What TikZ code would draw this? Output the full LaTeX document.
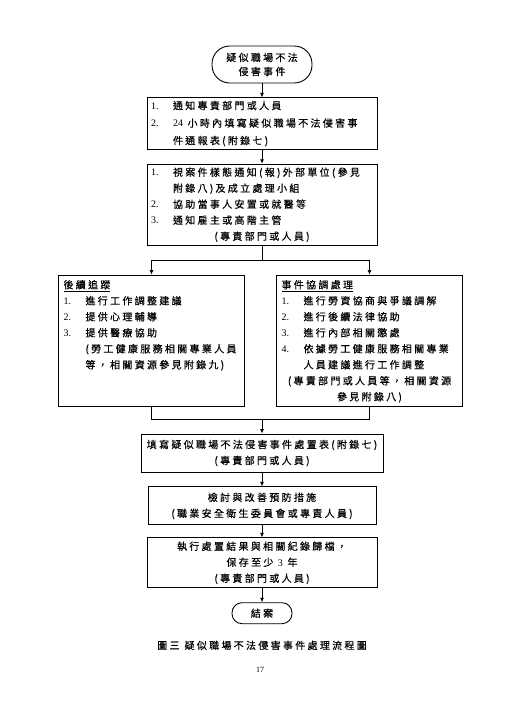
\documentclass[tikz,border=0pt]{standalone}
\usepackage{fontspec}
\setmainfont{Noto Sans CJK TC}[LetterSpace=23, FakeBold=0.4]
\newfontfamily\numfont{Liberation Serif}
\usetikzlibrary{positioning,arrows.meta,calc}

\newlength{\numw}\setlength{\numw}{22pt}
\newcommand{\itm}[1]{\makebox[\numw][l]{\numfont #1}}
\newcommand{\cont}{\hspace*{\numw}}
\newcommand{\midline}[1]{\makebox[\linewidth][c]{#1}}

\begin{document}
\begin{tikzpicture}[
    x=1pt, y=1pt,
    font=\fontsize{10pt}{16pt}\selectfont,
    flow/.style={draw, line width=0.9pt, inner xsep=4pt, inner ysep=3pt},
    listbox/.style={flow, minimum height=#1},
    midbox/.style 2 args={flow, align=center, minimum width=#1, minimum height=#2},
    sidebox/.style={flow, inner xsep=5pt, inner ysep=5pt, anchor=north},
    terminal/.style 2 args={draw, line width=0.9pt, align=center,
                            minimum width=#1, minimum height=#2,
                            rounded corners=0.48*#2, inner sep=1pt},
    link/.style={line width=0.8pt},
    arrow/.style={link, -{Latex[length=4.5pt,width=4pt]}},
  ]
  \fill[white] (0,0) rectangle (526,-726);
  \useasboundingbox (0,0) rectangle (526,-726);

  % --- opening event ---
  \node[terminal={100pt}{37pt}, font=\fontsize{10pt}{14pt}\selectfont] (start)
    at (262,-64.5) {疑似職場不法\\侵害事件};

  % --- first steps (main column) ---
  \node[listbox=51pt, below=14pt of start, font=\fontsize{10pt}{17.5pt}\selectfont] (notify)
    {\parbox{222pt}{\raggedright
     \itm{1.}通知專責部門或人員\\
     \itm{2.}{\numfont 24} 小時內填寫疑似職場不法侵害事\\
     \cont 件通報表(附錄七)}};
  \node[listbox=81pt, below=14pt of notify] (assist)
    {\parbox{222pt}{\raggedright
     \itm{1.}視案件樣態通知(報)外部單位(參見\\
     \cont 附錄八)及成立處理小組\\
     \itm{2.}協助當事人安置或就醫等\\
     \itm{3.}通知雇主或高階主管\\
     \midline{(專責部門或人員)}}};

  % --- two parallel branches ---
  \node[sidebox] (follow) at ($(assist.south)+(-110.5pt,-29pt)$)
    {\parbox[t][121pt][t]{176pt}{\raggedright
     \underline{後續追蹤}\\
     \itm{1.}進行工作調整建議\\
     \itm{2.}提供心理輔導\\
     \itm{3.}提供醫療協助\\
     \cont(勞工健康服務相關專業人員\\
     \cont 等，相關資源參見附錄九)}};
  \node[sidebox] (handle) at ($(assist.south)+(107.5pt,-29pt)$)
    {\parbox[t][121pt][t]{176pt}{\raggedright
     \underline{事件協調處理}\\
     \itm{1.}進行勞資協商與爭議調解\\
     \itm{2.}進行後續法律協助\\
     \itm{3.}進行內部相關懲處\\
     \itm{4.}依據勞工健康服務相關專業\\
     \cont 人員建議進行工作調整\\
     \midline{(專責部門或人員等，相關資源}\\
     \midline{參見附錄八)}}};

  % --- branch / merge points ---
  \coordinate (split) at ($(assist.south)+(0,-15pt)$);
  \coordinate (join) at ($(follow.south -| assist.south)+(0,-13pt)$);

  % --- closing steps (main column) ---
  \node[midbox={242pt}{38pt}, anchor=north] (record)
    at ($(follow.south -| assist.south)+(0,-27pt)$)
    {填寫疑似職場不法侵害事件處置表(附錄七)\\(專責部門或人員)};
  \node[midbox={228pt}{38pt}, below=14pt of record] (review)
    {檢討與改善預防措施\\(職業安全衛生委員會或專責人員)};
  \node[midbox={230pt}{50pt}, below=12pt of review] (archive)
    {執行處置結果與相關紀錄歸檔，\\保存至少 {\numfont 3} 年\\(專責部門或人員)};
  \node[terminal={60pt}{21pt}, below=14pt of archive] (close) {結案};

  % --- caption and page number ---
  \node[below=13pt of close] (caption) {圖三\hspace{5pt}疑似職場不法侵害事件處理流程圖};
  \node[font=\numfont\fontsize{8pt}{8pt}\selectfont] (pageno) at (260,-670) {17};

  % --- arrows: main column ---
  \draw[arrow] (start) -- (notify);
  \draw[arrow] (notify) -- (assist);

  % --- arrows: split into branches ---
  \draw[link] (assist.south) -- (split);
  \draw[arrow] (split) -| (follow.north);
  \draw[arrow] (split) -| (handle.north);

  % --- arrows: merge back ---
  \draw[link] (follow.south) |- (join) -| (handle.south);
  \draw[arrow] (join) -- (record.north);

  % --- arrows: to the end ---
  \draw[arrow] (record) -- (review);
  \draw[arrow] (review) -- (archive);
  \draw[arrow] (archive) -- (close);
\end{tikzpicture}
\end{document}
